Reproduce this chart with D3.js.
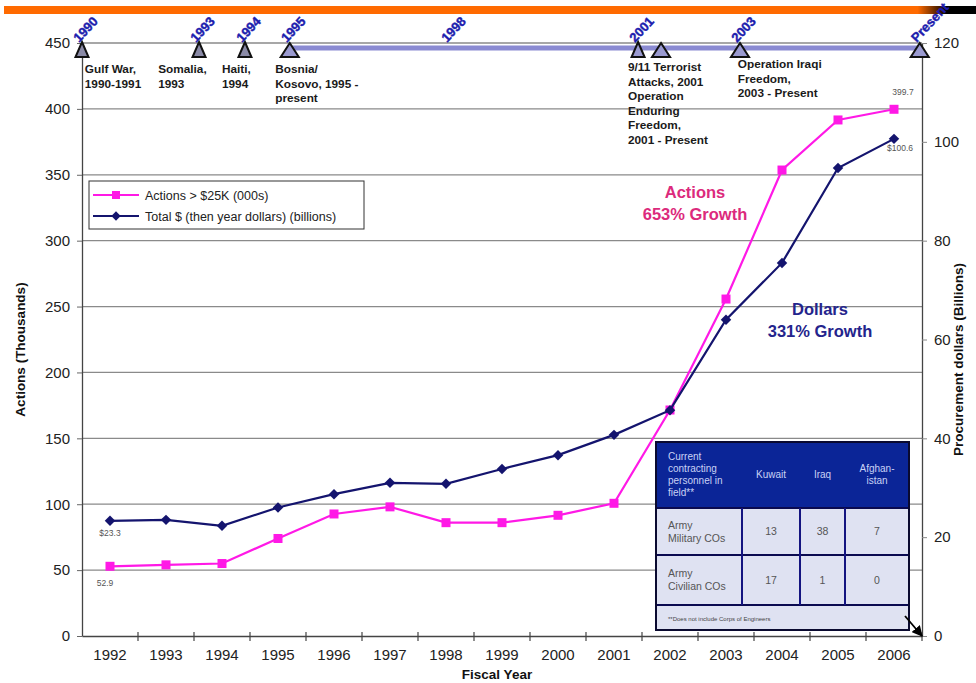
<!DOCTYPE html>
<html>
<head>
<meta charset="utf-8">
<script src="https://cdn.jsdelivr.net/npm/d3@7"></script>
<style>
  body { margin: 0; background: #fff; }
  svg { display: block; font-family: "Liberation Sans", Arial, sans-serif; }
</style>
</head>
<body>
<svg id="chart"></svg>
<script>
const years = [1992, 1993, 1994, 1995, 1996, 1997, 1998, 1999, 2000, 2001, 2002, 2003, 2004, 2005, 2006];
const actions = [52.9, 54, 55, 74, 92.6, 98, 86, 86, 91.6, 100.7, 171.5, 255.7, 353.6, 391.6, 399.7]; // thousands
const dollars = [23.3, 23.5, 22.3, 26.0, 28.7, 31.0, 30.8, 33.8, 36.6, 40.7, 45.7, 64.0, 75.5, 94.7, 100.6]; // billions
const leftTicks = [0, 50, 100, 150, 200, 250, 300, 350, 400, 450];
const rightTicks = [0, 20, 40, 60, 80, 100, 120];

// timeline events (position in fiscal-year units)
const timelineYears = [
  { label: "1990", at: 1991.5, mark: true },
  { label: "1993", at: 1993.59, mark: true },
  { label: "1994", at: 1994.41, mark: true },
  { label: "1995", at: 1995.21, mark: true },
  { label: "1998", at: 1998.07, mark: false },
  { label: "2001", at: 2001.43, mark: true },
  { label: "", at: 2001.84, mark: true },
  { label: "2003", at: 2003.25, mark: true },
  { label: "Present", at: 2006.46, mark: true }
];
const timelineEvents = [
  { at: 1991.55, lines: ["Gulf War,", "1990-1991"] },
  { at: 1992.86, lines: ["Somalia,", "1993"] },
  { at: 1994.0, lines: ["Haiti,", "1994"] },
  { at: 1994.95, lines: ["Bosnia/", "Kosovo, 1995 -", "present"] },
  { at: 2001.25, lines: ["9/11 Terrorist", "Attacks, 2001", "Operation", "Enduring", "Freedom,", "2001 - Present"] },
  { at: 2003.21, lines: ["Operation Iraqi", "Freedom,", "2003 - Present"] }
];

const tableHeader = ["Current\ncontracting\npersonnel in\nfield**", "Kuwait", "Iraq", "Afghan-\nistan"];
const tableRows = [
  ["Army\nMilitary COs", "13", "38", "7"],
  ["Army\nCivilian COs", "17", "1", "0"]
];
const tableNote = "**Does not include Corps of Engineers";

const W = 976, H = 683;
const margin = { left: 82, right: 54, top: 43, bottom: 47 };
const svg = d3.select("#chart").attr("width", W).attr("height", H);
const defs = svg.append("defs");

const x = d3.scaleBand().domain(years).range([margin.left, W - margin.right]);
const xYear = d3.scaleLinear()
  .domain([years[0], years[years.length - 1]])
  .range([x(years[0]) + x.bandwidth() / 2, x(years[years.length - 1]) + x.bandwidth() / 2]);
const yL = d3.scaleLinear().domain([0, 450]).range([H - margin.bottom, margin.top]);
const yR = d3.scaleLinear().domain([0, 120]).range([H - margin.bottom, margin.top]);

const x0 = margin.left, x1 = W - margin.right;

// gridlines
svg.append("g")
  .selectAll("line")
  .data(leftTicks.filter(d => d > 0))
  .join("line")
  .attr("x1", x0).attr("x2", x1)
  .attr("y1", d => yL(d)).attr("y2", d => yL(d))
  .attr("stroke", "#8a8a8a").attr("stroke-width", 1.3);

// left axis
const leftAxis = svg.append("g")
  .attr("transform", `translate(${x0},0)`)
  .call(d3.axisLeft(yL).tickValues(leftTicks).tickSize(5).tickSizeOuter(0));
leftAxis.select(".domain").attr("stroke", "#444").attr("stroke-width", 1.3);
leftAxis.selectAll(".tick line").attr("stroke", "#666");
leftAxis.selectAll("text").attr("font-size", 15).attr("fill", "#222").attr("font-family", "Liberation Sans, Arial").attr("dx", -4);

// right axis
const rightAxis = svg.append("g")
  .attr("transform", `translate(${x1},0)`)
  .call(d3.axisRight(yR).tickValues(rightTicks).tickSize(5).tickSizeOuter(0));
rightAxis.select(".domain").attr("stroke", "#444").attr("stroke-width", 1.3);
rightAxis.selectAll(".tick line").attr("stroke", "#888");
rightAxis.selectAll("text").attr("font-size", 15).attr("fill", "#222").attr("font-family", "Liberation Sans, Arial").attr("dx", 4);

// bottom axis
const bottomAxis = svg.append("g")
  .attr("transform", `translate(0,${yL(0)})`)
  .call(d3.axisBottom(x).tickSize(0).tickSizeOuter(0));
bottomAxis.select(".domain").attr("stroke", "#444").attr("stroke-width", 1.3);
bottomAxis.selectAll("text").attr("font-size", 15).attr("fill", "#222").attr("font-family", "Liberation Sans, Arial").attr("dy", "1.4em");
// tick marks between categories
svg.append("g")
  .selectAll("line")
  .data(years.slice(1).concat(["end"]))
  .join("line")
  .attr("x1", d => d === "end" ? x1 : x(d)).attr("x2", d => d === "end" ? x1 : x(d))
  .attr("y1", yL(0) - 4).attr("y2", yL(0) + 5)
  .attr("stroke", "#444").attr("stroke-width", 1.2);

// axis titles
svg.append("text")
  .attr("x", (x0 + x1) / 2 - 5).attr("y", 679)
  .attr("text-anchor", "middle").attr("font-size", 13.5).attr("font-weight", "bold").attr("fill", "#111")
  .text("Fiscal Year");
svg.append("text")
  .attr("transform", `translate(25,${(yL(0) + yL(450)) / 2 + 10}) rotate(-90)`)
  .attr("text-anchor", "middle").attr("font-size", 13.5).attr("font-weight", "bold").attr("fill", "#111")
  .text("Actions (Thousands)");
svg.append("text")
  .attr("transform", `translate(963,${(yL(0) + yL(450)) / 2 + 20}) rotate(-90)`)
  .attr("text-anchor", "middle").attr("font-size", 13.5).attr("font-weight", "bold").attr("fill", "#111")
  .text("Procurement dollars (Billions)");

// series
const cx = d => x(d) + x.bandwidth() / 2;
const actionsColor = "#ff19e6", dollarsColor = "#14146e";

svg.append("path")
  .datum(years.map((d, i) => [cx(d), yL(actions[i])]))
  .attr("d", d3.line())
  .attr("fill", "none").attr("stroke", actionsColor).attr("stroke-width", 2.2);
svg.append("g")
  .selectAll("rect")
  .data(years.map((d, i) => ({ year: d, v: actions[i] })))
  .join("rect")
  .attr("x", d => cx(d.year) - 4.5).attr("y", d => yL(d.v) - 4.5)
  .attr("width", 9).attr("height", 9)
  .attr("fill", actionsColor);

svg.append("path")
  .datum(years.map((d, i) => [cx(d), yR(dollars[i])]))
  .attr("d", d3.line())
  .attr("fill", "none").attr("stroke", dollarsColor).attr("stroke-width", 2.2);
svg.append("g")
  .selectAll("path")
  .data(years.map((d, i) => ({ year: d, v: dollars[i] })))
  .join("path")
  .attr("d", d3.symbol(d3.symbolDiamond2, 70))
  .attr("transform", d => `translate(${cx(d.year)},${yR(d.v)})`)
  .attr("fill", dollarsColor);

// data labels
const small = (xx, yy, t) => svg.append("text").attr("x", xx).attr("y", yy)
  .attr("font-size", 8.5).attr("fill", "#555").attr("text-anchor", "middle").text(t);
small(cx(1992) - 5, yL(actions[0]) + 20, actions[0].toFixed(1));
small(cx(1992), yR(dollars[0]) + 15, "$" + dollars[0].toFixed(1));
small(cx(2006) + 9, yL(actions[14]) - 14, actions[14].toFixed(1));
small(cx(2006) + 6, yR(dollars[14]) + 12, "$" + dollars[14].toFixed(1));

// growth notes
svg.append("text").attr("text-anchor", "middle").attr("font-size", 16.5).attr("font-weight", "bold").attr("fill", "#dc2a7c")
  .selectAll("tspan").data(["Actions", "653% Growth"]).join("tspan")
  .attr("x", 695).attr("y", (d, i) => 198 + i * 22).text(d => d);
svg.append("text").attr("text-anchor", "middle").attr("font-size", 16.5).attr("font-weight", "bold").attr("fill", "#24248c")
  .selectAll("tspan").data(["Dollars", "331% Growth"]).join("tspan")
  .attr("x", 820).attr("y", (d, i) => 315 + i * 22).text(d => d);

// legend
const lg = svg.append("g").attr("transform", "translate(89,181)");
lg.append("rect").attr("width", 275).attr("height", 48).attr("fill", "#fff").attr("stroke", "#333").attr("stroke-width", 1);
[["Actions > $25K (000s)", actionsColor, "square"], ["Total $ (then year dollars) (billions)", dollarsColor, "diamond"]]
  .forEach(([t, c, s], i) => {
    const yy = 14 + i * 21;
    lg.append("line").attr("x1", 4).attr("x2", 50).attr("y1", yy).attr("y2", yy).attr("stroke", c).attr("stroke-width", 2);
    if (s === "square") lg.append("rect").attr("x", 23).attr("y", yy - 4).attr("width", 8).attr("height", 8).attr("fill", c);
    else lg.append("path").attr("d", d3.symbol(d3.symbolDiamond2, 55)).attr("transform", `translate(27,${yy})`).attr("fill", c);
    lg.append("text").attr("x", 56).attr("y", yy + 4.5).attr("font-size", 12.5).attr("fill", "#222").text(t);
  });

// table
const tX = [656, 742, 800, 845, 909];
const tY = [442, 508, 555, 605, 630];
const tbl = svg.append("g");
tbl.append("rect").attr("x", tX[0]).attr("y", tY[0]).attr("width", tX[4] - tX[0]).attr("height", tY[1] - tY[0]).attr("fill", "#0b2597");
tbl.append("rect").attr("x", tX[0]).attr("y", tY[1]).attr("width", tX[4] - tX[0]).attr("height", tY[4] - tY[1]).attr("fill", "#dfe2f2");
tableHeader.forEach((h, j) => {
  const lines = h.split("\n");
  const t = tbl.append("text").attr("font-size", 10).attr("fill", "#c9d2f5")
    .attr("text-anchor", j === 0 ? "start" : "middle");
  t.selectAll("tspan").data(lines).join("tspan")
    .attr("x", j === 0 ? tX[0] + 12 : (tX[j] + tX[j + 1]) / 2)
    .attr("y", (d, k) => (tY[0] + tY[1]) / 2 - (lines.length - 1) * 6 + 3 + k * 12)
    .text(d => d);
});
tableRows.forEach((row, r) => {
  row.forEach((c, j) => {
    const lines = c.split("\n");
    const t = tbl.append("text").attr("font-size", 10.5).attr("fill", "#555")
      .attr("text-anchor", j === 0 ? "start" : "middle");
    t.selectAll("tspan").data(lines).join("tspan")
      .attr("x", j === 0 ? tX[0] + 12 : (tX[j] + tX[j + 1]) / 2)
      .attr("y", (d, k) => (tY[r + 1] + tY[r + 2]) / 2 - (lines.length - 1) * 6.5 + 3.5 + k * 13)
      .text(d => d);
  });
});
tbl.append("text").attr("x", tX[0] + 12).attr("y", (tY[3] + tY[4]) / 2 + 3)
  .attr("font-size", 6).attr("fill", "#444").text(tableNote);
// table borders
[tY[1], tY[2], tY[3]].forEach(yy => tbl.append("line").attr("x1", tX[0]).attr("x2", tX[4]).attr("y1", yy).attr("y2", yy).attr("stroke", "#0a0a50").attr("stroke-width", 2));
[tX[1], tX[2], tX[3]].forEach(xx => tbl.append("line").attr("x1", xx).attr("x2", xx).attr("y1", tY[1]).attr("y2", tY[3]).attr("stroke", "#141480").attr("stroke-width", 2));
tbl.append("rect").attr("x", tX[0]).attr("y", tY[0]).attr("width", tX[4] - tX[0]).attr("height", tY[4] - tY[0])
  .attr("fill", "none").attr("stroke", "#0a0a30").attr("stroke-width", 2);
// arrow
defs.append("marker").attr("id", "ah").attr("viewBox", "0 0 10 10").attr("refX", 9).attr("refY", 5)
  .attr("markerWidth", 6).attr("markerHeight", 6).attr("orient", "auto")
  .append("path").attr("d", "M0,0L10,5L0,10z").attr("fill", "#000");
svg.append("line").attr("x1", tX[4] - 4).attr("y1", tY[4] - 14).attr("x2", x1).attr("y2", yL(0))
  .attr("stroke", "#000").attr("stroke-width", 1.8).attr("marker-end", "url(#ah)");

// timeline bar
const tlY = yL(450) + 5;
svg.append("line").attr("x1", xYear(1995.21)).attr("x2", xYear(2006.46)).attr("y1", tlY).attr("y2", tlY)
  .attr("stroke", "#8a8ad2").attr("stroke-width", 5);

// timeline triangles
svg.append("g").selectAll("path")
  .data(timelineYears.filter(d => d.mark))
  .join("path")
  .attr("d", d => {
    const big = d.at > 1995 && d.label !== "2001";
    const w = big ? 9 : 6.5, h = big ? 14 : 15;
    return `M0,${-h + 3}L${w},3L${-w},3Z`;
  })
  .attr("transform", d => `translate(${xYear(d.at)},${tlY + 6})`)
  .attr("fill", d => d.at > 1995 ? "#9a9ad0" : "#8a8aa6")
  .attr("stroke", "#111").attr("stroke-width", 2);

// top banner (drawn before labels so they stay readable)
const grad = defs.append("linearGradient").attr("id", "bannerGrad");
grad.append("stop").attr("offset", "0%").attr("stop-color", "#ff6a00");
grad.append("stop").attr("offset", "94%").attr("stop-color", "#ff6a00");
grad.append("stop").attr("offset", "97%").attr("stop-color", "#000");
grad.append("stop").attr("offset", "100%").attr("stop-color", "#000");
svg.append("rect").attr("x", 4).attr("y", 6).attr("width", W - 4).attr("height", 8).attr("fill", "url(#bannerGrad)");

// rotated year labels
svg.append("g").selectAll("text")
  .data(timelineYears.filter(d => d.label))
  .join("text")
  .attr("transform", d => `translate(${xYear(d.at) - 3},${tlY - 5}) rotate(-47)`)
  .attr("font-size", 13).attr("font-weight", "bold").attr("fill", "#1d1dae")
  .attr("stroke", "#1d1dae").attr("stroke-width", 0.4)
  .text(d => d.label);

// event notes
timelineEvents.forEach(ev => {
  svg.append("text").attr("font-size", 11.8).attr("fill", "#1a1a1a").attr("font-weight", "bold")
    .selectAll("tspan").data(ev.lines).join("tspan")
    .attr("x", xYear(ev.at)).attr("y", (d, i) => (ev.at > 2003 ? 68 : ev.at > 2000 ? 71 : 73) + i * 14.6)
    .text(d => d);
});
</script>
</body>
</html>
